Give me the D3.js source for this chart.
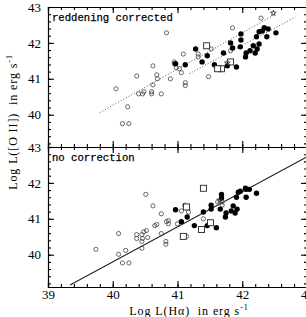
<!DOCTYPE html>
<html>
<head>
<meta charset="utf-8">
<script src="https://cdn.jsdelivr.net/npm/d3@7"></script>
<style>
  body { margin: 0; background: #fff; }
  svg { display: block; }
  .axis path, .axis line { stroke: #000; stroke-width: 1.1; }
  .axis text { font-family: "Liberation Serif", serif; font-size: 13px; fill: #000; }
</style>
</head>
<body>
<svg id="chart" width="306" height="317"></svg>
<script>

// ---- data ----
// top panel: reddening corrected, [log L(Ha), log L(OII)]
var topOpen = [[40.05,40.72],[40.23,40.22],[40.15,39.75],[40.25,39.75],[40.37,41.08],[40.40,40.58],
  [40.48,40.64],[40.46,40.58],[40.60,40.64],[40.60,40.58],[40.62,40.83],[40.62,41.36],[40.68,41.11],
  [40.69,41.00],[42.29,42.69],[41.85,42.42],[40.83,42.28],[41.52,41.83],[41.09,41.69],[41.32,41.69],
  [41.32,41.61],[40.95,41.47],[40.95,41.42],[40.98,41.31],[41.03,41.28],[41.06,41.17],[40.89,41.00],
  [41.12,40.89],[41.12,40.81],[41.48,41.06],[40.75,40.58],[41.82,41.78]];
var topFilled = [[41.28,41.83],[40.97,41.42],[41.12,41.39],[41.38,41.47],[41.46,41.64],[41.57,41.39],
  [41.71,41.72],[41.82,42.00],[41.85,41.86],[41.77,41.36],[41.91,41.33],[41.98,42.25],[41.98,42.08],
  [41.97,41.89],[42.05,41.61],[42.06,41.72],[42.12,41.78],[42.17,41.92],[42.20,41.72],[42.23,41.83],
  [42.26,41.97],[42.22,42.17],[42.26,42.31],[42.31,42.33],[42.34,42.42],[42.40,42.39],[42.38,42.17],
  [42.52,42.28]];
var topSquare = [[41.45,41.92],[41.82,41.47],[41.68,41.28],[41.62,41.28]];
var topStar = [[42.48,42.83],[41.77,41.44]];
// dotted fits in the top panel: [x0, x1, slope, intercept]
var topFits = [[39.8, 42.5, 1.01, -0.14], [41.18, 42.82, 0.96, 1.61]];

// bottom panel: no correction
var botOpen = [[39.74,40.15],[40.09,40.59],[40.09,40.01],[40.20,40.12],[40.15,39.77],[40.25,39.77],
  [40.37,40.56],[40.37,40.45],[40.45,40.56],[40.46,40.45],[40.45,40.37],[40.48,40.64],[40.52,40.67],
  [40.54,40.48],[40.45,40.18],[40.51,41.68],[40.62,41.36],[40.65,40.81],[40.68,40.84],[40.75,41.14],
  [40.75,40.59],[40.82,40.29],[40.82,40.37],[40.83,40.92],[40.86,40.95],[40.86,40.86],[41.00,40.86],
  [41.06,41.22],[41.11,41.38],[41.17,41.19],[41.40,41.00],[41.14,40.51],[41.62,41.47],[41.69,41.47],
  [41.69,41.38]];
var botFilled = [[40.97,41.25],[41.06,40.92],[41.15,41.05],[41.26,40.81],[41.40,41.19],[41.46,40.81],
  [41.52,41.38],[41.52,41.27],[41.60,40.75],[41.66,41.27],[41.68,41.68],[41.68,41.58],[41.74,41.05],
  [41.75,41.16],[41.83,41.22],[41.86,41.36],[41.89,41.16],[41.91,41.60],[41.92,41.27],[41.94,41.74],
  [41.97,41.77],[42.05,41.85],[42.06,41.82],[42.11,41.82],[42.06,41.60],[42.22,41.71]];
var botSquare = [[41.40,41.85],[41.14,41.33],[41.09,40.51],[41.37,40.70],[41.51,40.89]];
var botStar = [[41.65,41.52]];
var botFit = [39.34, 43, 0.975, 0.8];

var xTicks = [39, 40, 41, 42, 43];
var yTicks = [40, 41, 42, 43];

// ---- layout ----
var svg = d3.select("#chart"),
    left = 48, right = 307,
    panels = [
      {top: 7, bottom: 147, label: "reddening corrected"},
      {top: 147, bottom: 287, label: "no correction"}
    ];

var x = d3.scaleLinear().domain([39, 43]).range([left, right]);
var minor = d3.range(39, 43.01, 0.2).map(function(d) { return +d.toFixed(1); });

panels.forEach(function(p, i) {
  p.y = d3.scaleLinear().domain([39.1, 43]).range([p.bottom, p.top]);
});

function drawAxes(p, i) {
  var g = svg.append("g").attr("class", "axis");
  var yMinor = minor.filter(function(d) { return d >= 39.1; });

  // minor ticks first, then majors
  var sets = [
    [d3.axisLeft(p.y).tickValues(yMinor).tickSize(-3).tickFormat(""), "translate(" + left + ",0)"],
    [d3.axisRight(p.y).tickValues(yMinor).tickSize(-3).tickFormat(""), "translate(" + right + ",0)"],
    [d3.axisLeft(p.y).tickValues(yTicks).tickSize(-6).tickPadding(7).tickFormat(d3.format("d")), "translate(" + left + ",0)"],
    [d3.axisRight(p.y).tickValues(yTicks).tickSize(-6).tickFormat(""), "translate(" + right + ",0)"],
    [d3.axisTop(x).tickValues(minor).tickSize(-3).tickFormat(""), "translate(0," + p.top + ")"],
    [d3.axisTop(x).tickValues(xTicks).tickSize(-6).tickFormat(""), "translate(0," + p.top + ")"],
    [d3.axisBottom(x).tickValues(minor).tickSize(-3).tickFormat(""), "translate(0," + p.bottom + ")"],
    [d3.axisBottom(x).tickValues(xTicks).tickSize(-6).tickPadding(3)
        .tickFormat(i == 1 ? d3.format("d") : ""), "translate(0," + p.bottom + ")"]
  ];
  sets.forEach(function(s) {
    g.append("g").attr("transform", s[1]).call(s[0]);
  });
  g.selectAll(".domain").attr("stroke-width", 1.2);

  svg.append("text")
    .attr("x", 52).attr("y", p.top + 14)
    .attr("font-family", "Liberation Mono, monospace")
    .attr("font-size", "10.6px")
    .attr("stroke", "#000").attr("stroke-width", 0.25)
    .attr("fill", "#000")
    .text(p.label);
}

function drawPoints(p, open, filled, squares, stars) {
  var g = svg.append("g");
  g.selectAll(".open").data(open).enter().append("circle")
    .attr("cx", function(d) { return x(d[0]); })
    .attr("cy", function(d) { return p.y(d[1]); })
    .attr("r", 2.1)
    .attr("fill", "none").attr("stroke", "#444").attr("stroke-width", 0.8);
  g.selectAll(".filled").data(filled).enter().append("circle")
    .attr("cx", function(d) { return x(d[0]); })
    .attr("cy", function(d) { return p.y(d[1]); })
    .attr("r", 2.7)
    .attr("fill", "#000");
  g.selectAll(".sq").data(squares).enter().append("rect")
    .attr("x", function(d) { return x(d[0]) - 3; })
    .attr("y", function(d) { return p.y(d[1]) - 3; })
    .attr("width", 6).attr("height", 6)
    .attr("fill", "#fff").attr("stroke", "#222").attr("stroke-width", 0.9);
  g.selectAll(".star").data(stars).enter().append("path")
    .attr("transform", function(d) { return "translate(" + x(d[0]) + "," + p.y(d[1]) + ")"; })
    .attr("d", d3.symbol().type(d3.symbolStar).size(10))
    .attr("fill", "none").attr("stroke", "#222").attr("stroke-width", 0.8);
}

function fitLine(p, f, dotted) {
  var line = d3.line()
    .x(function(d) { return x(d); })
    .y(function(d) { return p.y(f[2] * d + f[3]); });
  svg.append("path")
    .datum([f[0], f[1]])
    .attr("d", line)
    .attr("fill", "none")
    .attr("stroke", dotted ? "#555" : "#222")
    .attr("stroke-width", dotted ? 1 : 1.1)
    .attr("stroke-dasharray", dotted ? "1,2" : null);
}

// top panel
topFits.forEach(function(f) { fitLine(panels[0], f, true); });
drawPoints(panels[0], topOpen, topFilled, topSquare, topStar);
// bottom panel
fitLine(panels[1], botFit, false);
drawPoints(panels[1], botOpen, botFilled, botSquare, botStar);

panels.forEach(drawAxes);

// axis titles
svg.append("text")
  .attr("x", 189).attr("y", 315)
  .attr("text-anchor", "middle")
  .attr("font-family", "Liberation Serif, serif")
  .attr("font-size", "12px")
  .attr("letter-spacing", "0.9px")
  .attr("xml:space", "preserve")
  .html("Log L(H&#945;)  in erg s<tspan dy='-5' font-size='8px'>-1</tspan>");

svg.append("text")
  .attr("transform", "translate(17,122) rotate(-90)")
  .attr("text-anchor", "middle")
  .attr("font-family", "Liberation Serif, serif")
  .attr("font-size", "12px")
  .attr("letter-spacing", "0.9px")
  .attr("xml:space", "preserve")
  .html("Log L([O II])  in erg s<tspan dy='-5' font-size='8px'>-1</tspan>");

</script>
</body>
</html>
